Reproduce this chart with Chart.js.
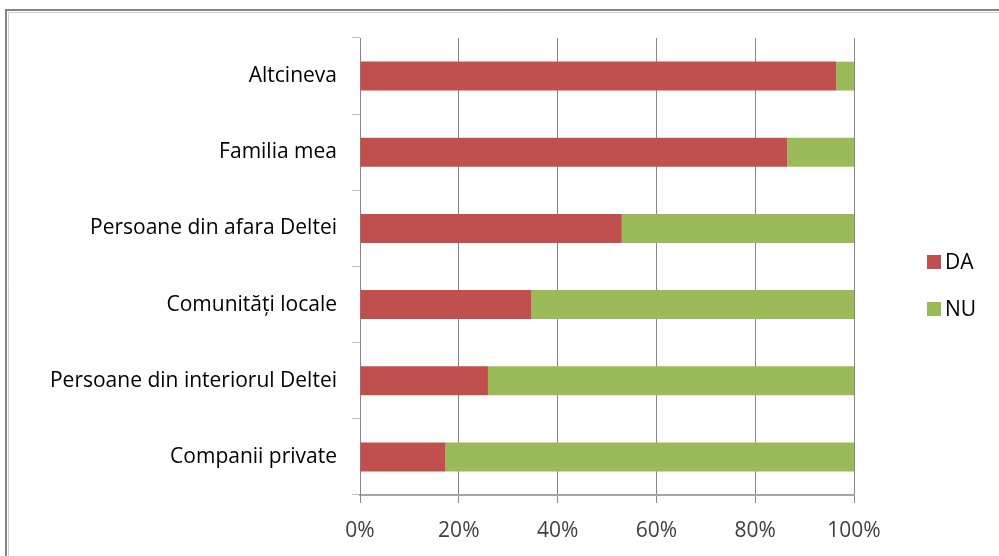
<!DOCTYPE html>
<html>
<head>
<meta charset="utf-8">
<script src="https://cdn.jsdelivr.net/npm/chart.js@4/dist/chart.umd.min.js"></script>
<style>
  html, body { margin: 0; padding: 0; background: #fff; }
  canvas { display: block; }
</style>
</head>
<body>
<canvas id="chart" width="999" height="556"></canvas>
<script>
const categories = [
    'Altcineva',
    'Familia mea',
    'Persoane din afara Deltei',
    'Comunități locale',
    'Persoane din interiorul Deltei',
    'Companii private'
];
const valuesDA = [96.4, 86.5, 53.0, 34.7, 25.9, 17.3];
const valuesNU = [3.6, 13.5, 47.0, 65.3, 74.1, 82.7];
const tickLabels = ['0%', '20%', '40%', '60%', '80%', '100%'];

const FONT = '"Open Sans", sans-serif';

// frame + white background
const framePlugin = {
    id: 'frame',
    beforeDraw(chart) {
        const ctx = chart.ctx;
        ctx.save();
        ctx.fillStyle = '#fff';
        ctx.fillRect(0, 0, chart.width, chart.height);
        ctx.strokeStyle = '#d0d0d0';
        ctx.lineWidth = 1;
        ctx.beginPath();
        ctx.moveTo(8.5, chart.height);
        ctx.lineTo(8.5, 12.5);
        ctx.lineTo(chart.width, 12.5);
        ctx.stroke();
        ctx.strokeStyle = '#858585';
        ctx.lineWidth = 2;
        ctx.beginPath();
        ctx.moveTo(6, chart.height);
        ctx.lineTo(6, 10);
        ctx.lineTo(chart.width, 10);
        ctx.stroke();
        ctx.restore();
    }
};

// legend on the right
const legendPlugin = {
    id: 'sideLegend',
    afterDraw(chart) {
        const ctx = chart.ctx;
        ctx.save();
        ctx.font = '21px ' + FONT;
        ctx.textBaseline = 'middle';
        chart.data.datasets.forEach((ds, i) => {
            const y = 262 + i * 47;
            ctx.fillStyle = ds.backgroundColor;
            ctx.fillRect(927, y - 7, 14, 14);
            ctx.fillStyle = '#000';
            ctx.fillText(ds.label, 945, y + 1);
        });
        ctx.restore();
    }
};

const data = {
    labels: categories,
    datasets: [{
        label: 'DA',
        backgroundColor: '#C0504D',
        data: valuesDA,
        barPercentage: 0.38,
        categoryPercentage: 1
    }, {
        label: 'NU',
        backgroundColor: '#9BBB59',
        data: valuesNU,
        barPercentage: 0.38,
        categoryPercentage: 1
    }]
};

const config = {
    type: 'bar',
    data: data,
    options: {
        indexAxis: 'y',
        responsive: false,
        animation: false,
        layout: { padding: { top: 38, right: 145, left: 0, bottom: 0 } },
        plugins: {
            legend: { display: false },
            tooltip: { enabled: false }
        },
        scales: {
            x: {
                stacked: true,
                min: 0,
                max: 100,
                afterFit(scale) { scale.height = 61; },
                grid: { color: '#868686', tickLength: 8 },
                border: { color: '#a6a6a6', width: 2 },
                ticks: {
                    stepSize: 20,
                    padding: 15,
                    color: '#404040',
                    font: { family: FONT, size: 21 },
                    callback: (v, i) => tickLabels[i]
                }
            },
            y: {
                stacked: true,
                afterFit(scale) { scale.width = 360; },
                grid: { drawOnChartArea: false, tickLength: 8, color: '#c0c0c0', offset: true },
                border: { color: '#868686', width: 1 },
                ticks: {
                    padding: 15,
                    color: '#000',
                    font: { family: FONT, size: 21 }
                }
            }
        }
    },
    plugins: [framePlugin, legendPlugin]
};

const myChart = new Chart(document.getElementById('chart'), config);
</script>
</body>
</html>
